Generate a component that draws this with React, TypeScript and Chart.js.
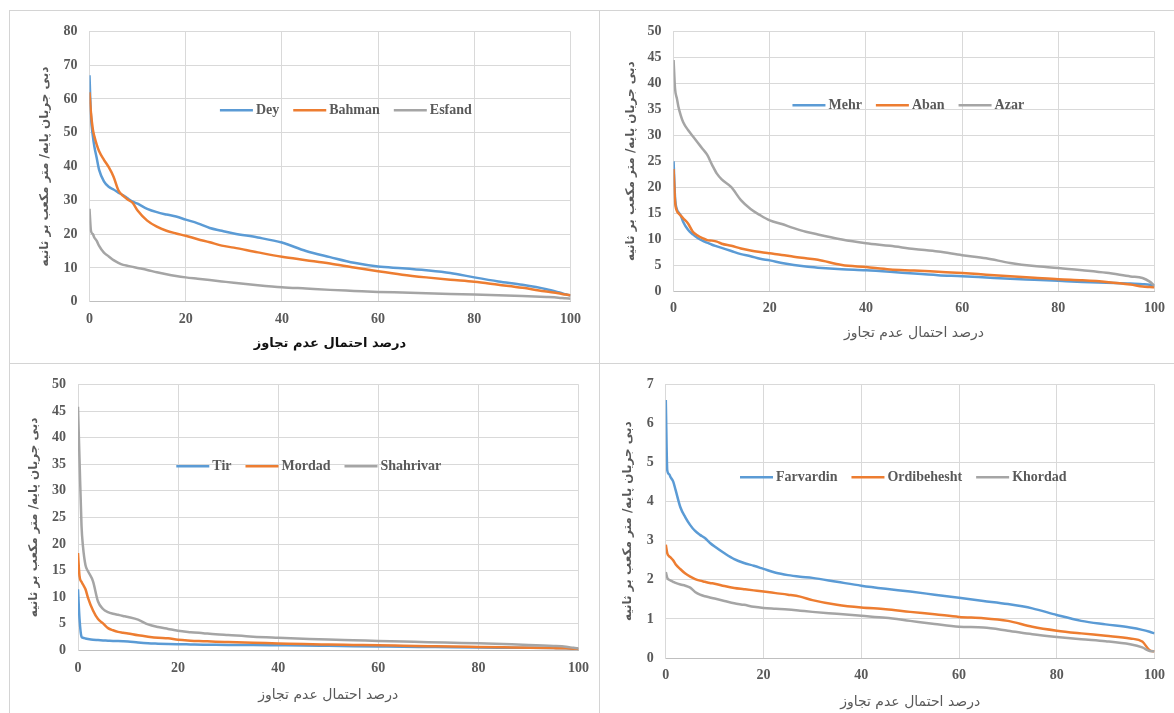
import React, { useEffect, useRef } from "react";
import { Chart, registerables } from "chart.js";

Chart.register(...registerables);

// ---------- data ----------
const pct = [0, 0.3, 0.7, 1, 1.5, 2, 3, 4, 5, 6, 7, 8, 9, 10, 12, 14, 16, 18, 20, 22.5, 25, 27.5, 30, 35, 40, 45, 50, 55, 60, 65, 70, 75, 80, 85, 90, 95, 97.5, 99, 100];

const dey = [67, 55, 49, 46, 42.5, 39, 35.6, 34, 33.2, 32.3, 31.5, 30.5, 29.6, 29, 27.5, 26.5, 25.8, 25.2, 24.3, 23.2, 21.8, 21, 20.2, 19, 17.5, 15, 13.2, 11.5, 10.4, 9.9, 9.3, 8.5, 7.2, 6, 5.0, 3.7, 2.8, 2.2, 1.8];
const bahman = [62, 56, 51, 49, 46.5, 44.5, 42, 39.8, 37, 33, 31.3, 30.2, 29.2, 27, 24, 22.2, 21, 20.2, 19.5, 18.5, 17.6, 16.6, 16, 14.6, 13.3, 12.3, 11.3, 10.1, 9, 8, 7.2, 6.5, 5.9, 5, 4.1, 3, 2.5, 2.1, 1.9];
const esfand = [27.5, 21, 20, 19, 18, 16.5, 14.5, 13.4, 12.3, 11.5, 10.9, 10.6, 10.3, 10, 9.4, 8.7, 8.1, 7.6, 7.2, 6.8, 6.4, 6, 5.6, 4.9, 4.3, 3.9, 3.5, 3.2, 2.9, 2.7, 2.5, 2.3, 2.1, 1.9, 1.7, 1.4, 1.2, 1, 0.9];

const mehr = [25, 18, 15.7, 15.2, 14.5, 13.3, 11.8, 10.9, 10.2, 9.7, 9.3, 8.9, 8.6, 8.3, 7.7, 7.1, 6.7, 6.2, 5.9, 5.4, 5, 4.7, 4.5, 4.2, 4, 3.7, 3.35, 3.05, 2.85, 2.6, 2.35, 2.15, 1.95, 1.75, 1.6, 1.45, 1.3, 1.2, 1.1];
const aban = [23.5, 17.3, 15.4, 15, 14.5, 14, 13, 11.4, 10.7, 10.2, 9.8, 9.7, 9.5, 9.1, 8.7, 8.2, 7.8, 7.5, 7.25, 6.95, 6.6, 6.3, 6, 5, 4.6, 4.15, 3.95, 3.7, 3.45, 3.15, 2.85, 2.55, 2.25, 2.05, 1.75, 1.25, 0.85, 0.75, 0.7];
const azar = [44.5, 39, 37, 35.5, 33.8, 32.5, 31, 29.8, 28.6, 27.4, 26.2, 24.3, 22.6, 21.5, 20, 17.5, 15.8, 14.6, 13.6, 12.9, 12.1, 11.4, 10.9, 9.9, 9.2, 8.7, 8.1, 7.6, 6.9, 6.3, 5.4, 4.8, 4.45, 4, 3.5, 2.8, 2.5, 1.8, 1];

const tir = [11.5, 6, 2.6, 2.4, 2.25, 2.15, 2, 1.95, 1.9, 1.85, 1.8, 1.78, 1.75, 1.7, 1.5, 1.35, 1.28, 1.22, 1.18, 1.14, 1.1, 1.07, 1.05, 1.02, 0.98, 0.94, 0.88, 0.82, 0.76, 0.7, 0.65, 0.6, 0.56, 0.53, 0.5, 0.45, 0.4, 0.35, 0.3];
const mordad = [18.3, 14, 12.9, 12.4, 11.5, 9.9, 7.5, 5.9, 5.1, 4.2, 3.8, 3.5, 3.35, 3.2, 2.85, 2.6, 2.4, 2.3, 2, 1.85, 1.75, 1.65, 1.58, 1.45, 1.33, 1.2, 1.12, 1.05, 0.98, 0.9, 0.82, 0.74, 0.67, 0.6, 0.53, 0.45, 0.4, 0.35, 0.3];
const shahrivar = [45.8, 36, 23.5, 19.5, 16, 14.9, 13, 9.2, 7.8, 7.2, 6.9, 6.7, 6.5, 6.3, 5.8, 4.9, 4.4, 4.05, 3.7, 3.45, 3.25, 3.05, 2.9, 2.6, 2.4, 2.22, 2.05, 1.93, 1.8, 1.68, 1.55, 1.45, 1.35, 1.2, 1.05, 0.85, 0.7, 0.5, 0.4];

const farvardin = [6.6, 4.8, 4.7, 4.62, 4.52, 4.3, 3.85, 3.6, 3.4, 3.25, 3.15, 3.07, 2.95, 2.85, 2.68, 2.53, 2.43, 2.36, 2.28, 2.18, 2.12, 2.08, 2.05, 1.95, 1.85, 1.77, 1.7, 1.62, 1.54, 1.46, 1.38, 1.27, 1.1, 0.95, 0.86, 0.78, 0.72, 0.67, 0.63];
const ordibehesht = [2.9, 2.68, 2.6, 2.57, 2.5, 2.4, 2.27, 2.16, 2.08, 2.02, 1.98, 1.95, 1.92, 1.9, 1.84, 1.79, 1.76, 1.73, 1.7, 1.66, 1.62, 1.57, 1.48, 1.36, 1.29, 1.25, 1.18, 1.12, 1.05, 1.02, 0.95, 0.8, 0.7, 0.63, 0.57, 0.5, 0.42, 0.2, 0.17];
const khordad = [2.2, 2.05, 2.0, 1.98, 1.95, 1.92, 1.88, 1.85, 1.8, 1.69, 1.62, 1.58, 1.55, 1.52, 1.46, 1.4, 1.36, 1.31, 1.28, 1.26, 1.24, 1.21, 1.18, 1.13, 1.08, 1.03, 0.95, 0.87, 0.8, 0.78, 0.7, 0.61, 0.54, 0.48, 0.43, 0.35, 0.27, 0.18, 0.17];

const xTicks = [0, 20, 40, 60, 80, 100];
const yTicksWinter = [0, 10, 20, 30, 40, 50, 60, 70, 80];
const yTicksAutumn = [0, 5, 10, 15, 20, 25, 30, 35, 40, 45, 50];
const yTicksSummer = [0, 5, 10, 15, 20, 25, 30, 35, 40, 45, 50];
const yTicksSpring = [0, 1, 2, 3, 4, 5, 6, 7];

const namesWinter = ["Dey", "Bahman", "Esfand"];
const namesAutumn = ["Mehr", "Aban", "Azar"];
const namesSummer = ["Tir", "Mordad", "Shahrivar"];
const namesSpring = ["Farvardin", "Ordibehesht", "Khordad"];

const yTitleText = "دبی جریان پایه/ متر مکعب بر ثانیه";
const xTitleText = "درصد احتمال عدم تجاوز";

// ---------- styles ----------
const COLORS = ["#5B9BD5", "#ED7D31", "#A5A5A5"];
const GRID = "#d9d9d9";
const TEXT = "#595959";
const SERIF = "'Liberation Serif', 'Times New Roman', serif";
const PERSIAN = "'DejaVu Sans', sans-serif";

const inlineLegend = {
  id: "inlineLegend",
  afterDatasetsDraw(chart: any, _args: any, opts: any) {
    const { ctx, chartArea } = chart;
    ctx.save();
    ctx.font = `bold 14px ${SERIF}`;
    const lineLen = 33;
    const gap = 3;
    const itemGap = 14;
    const items = chart.data.datasets.map((ds: any) => ({
      label: ds.label,
      color: ds.borderColor,
      w: lineLen + gap + ctx.measureText(ds.label).width,
    }));
    const total = items.reduce((s: number, it: any) => s + it.w, 0) + itemGap * (items.length - 1);
    let x = chartArea.left + opts.fx * (chartArea.right - chartArea.left) - total / 2;
    const y = chartArea.top + opts.fy * (chartArea.bottom - chartArea.top);
    for (const it of items) {
      ctx.strokeStyle = it.color;
      ctx.lineWidth = 2.5;
      ctx.lineCap = "butt";
      ctx.beginPath();
      ctx.moveTo(x, y);
      ctx.lineTo(x + lineLen, y);
      ctx.stroke();
      ctx.fillStyle = TEXT;
      ctx.textAlign = "left";
      ctx.textBaseline = "middle";
      ctx.fillText(it.label, x + lineLen + gap, y + 0.5);
      x += it.w + itemGap;
    }
    ctx.restore();
  },
};

type PanelCfg = {
  box: { left: number; top: number; width: number; height: number };
  names: string[];
  series: number[][];
  yTicks: number[];
  yW: number;
  xH: number;
  padTop: number;
  padRight: number;
  yTitlePad: number;
  xTitlePad: number;
  xTitleBold: boolean;
  legend: { fx: number; fy: number };
};

const panels: PanelCfg[] = [
  {
    box: { left: 10, top: 11, width: 588, height: 351 },
    names: namesWinter,
    series: [dey, bahman, esfand],
    yTicks: yTicksWinter,
    yW: 79.5, xH: 60.3, padTop: 17.3, padRight: 27.5,
    yTitlePad: 28, xTitlePad: 11, xTitleBold: true,
    legend: { fx: 0.533, fy: 0.2915 },
  },
  {
    box: { left: 600, top: 11, width: 574, height: 351 },
    names: namesAutumn,
    series: [mehr, aban, azar],
    yTicks: yTicksAutumn,
    yW: 73.6, xH: 71, padTop: 17.3, padRight: 14,
    yTitlePad: 24, xTitlePad: 20.6, xTitleBold: false,
    legend: { fx: 0.488, fy: 0.284 },
  },
  {
    box: { left: 10, top: 364, width: 588, height: 349 },
    names: namesSummer,
    series: [tir, mordad, shahrivar],
    yTicks: yTicksSummer,
    yW: 68, xH: 62.5, padTop: 17, padRight: 19,
    yTitlePad: 17, xTitlePad: 9.6, xTitleBold: false,
    legend: { fx: 0.461, fy: 0.308 },
  },
  {
    box: { left: 600, top: 364, width: 574, height: 349 },
    names: namesSpring,
    series: [farvardin, ordibehesht, khordad],
    yTicks: yTicksSpring,
    yW: 65.8, xH: 55, padTop: 17, padRight: 14,
    yTitlePad: 21, xTitlePad: 2.6, xTitleBold: false,
    legend: { fx: 0.486, fy: 0.339 },
  },
];

function Panel({ cfg }: { cfg: PanelCfg }) {
  const ref = useRef<HTMLCanvasElement>(null);
  useEffect(() => {
    if (!ref.current) return;
    const yTicks = cfg.yTicks;
    const chart = new Chart(ref.current, {
      type: "line",
      data: {
        datasets: cfg.series.map((arr, i) => ({
          label: cfg.names[i],
          data: pct.map((x, j) => ({ x, y: arr[j] })),
          borderColor: COLORS[i],
          backgroundColor: COLORS[i],
          borderWidth: 2.5,
          pointRadius: 0,
          cubicInterpolationMode: "monotone" as const,
          fill: false,
          order: 2 - i,
        })),
      },
      options: {
        animation: false,
        responsive: false,
        devicePixelRatio: 1,
        events: [],
        layout: { padding: { top: cfg.padTop, right: cfg.padRight, left: 0, bottom: 0 } },
        plugins: {
          legend: { display: false },
          tooltip: { enabled: false },
          inlineLegend: cfg.legend,
        } as any,
        scales: {
          x: {
            type: "linear",
            min: 0,
            max: 100,
            afterBuildTicks: (s: any) => {
              s.ticks = xTicks.map((v) => ({ value: v }));
            },
            afterFit: (s: any) => {
              s.height = cfg.xH;
            },
            ticks: { padding: 9, color: TEXT, font: { family: SERIF, size: 14, weight: "bold" } },
            grid: { color: GRID, drawTicks: false, lineWidth: 1 },
            border: { color: "#bfbfbf", width: 1 },
            title: {
              display: true,
              text: xTitleText,
              color: cfg.xTitleBold ? "#111111" : TEXT,
              font: { family: PERSIAN, size: cfg.xTitleBold ? 13 : 14, weight: cfg.xTitleBold ? "bold" : "normal" },
              padding: { top: 0, bottom: cfg.xTitlePad },
            },
          },
          y: {
            type: "linear",
            min: yTicks[0],
            max: yTicks[yTicks.length - 1],
            afterBuildTicks: (s: any) => {
              s.ticks = yTicks.map((v) => ({ value: v }));
            },
            afterFit: (s: any) => {
              s.width = cfg.yW;
            },
            ticks: { padding: 12, color: TEXT, font: { family: SERIF, size: 14, weight: "bold" } },
            grid: { color: GRID, drawTicks: false, lineWidth: 1 },
            border: { color: GRID, width: 1 },
            title: {
              display: true,
              text: yTitleText,
              color: TEXT,
              font: { family: PERSIAN, size: 12, weight: "bold" },
              padding: { top: cfg.yTitlePad, bottom: 0 },
            },
          },
        },
      } as any,
      plugins: [inlineLegend as any],
    });
    return () => chart.destroy();
  }, [cfg]);
  const b = cfg.box;
  return (
    <canvas
      ref={ref}
      width={b.width}
      height={b.height}
      style={{ position: "absolute", left: b.left, top: b.top, width: b.width, height: b.height }}
    />
  );
}

const line = (style: React.CSSProperties) => (
  <div style={{ position: "absolute", background: "#d4d4d4", ...style }} />
);

export default function App() {
  return (
    <div
      style={{
        position: "fixed",
        left: 0,
        top: 0,
        width: 1174,
        height: 713,
        background: "#ffffff",
        overflow: "hidden",
      }}
    >
      {line({ left: 9, top: 10, width: 1165, height: 1 })}
      {line({ left: 9, top: 363, width: 1165, height: 1 })}
      {line({ left: 9, top: 10, width: 1, height: 703 })}
      {line({ left: 599, top: 10, width: 1, height: 703 })}
      {panels.map((p, i) => (
        <Panel key={i} cfg={p} />
      ))}
    </div>
  );
}
